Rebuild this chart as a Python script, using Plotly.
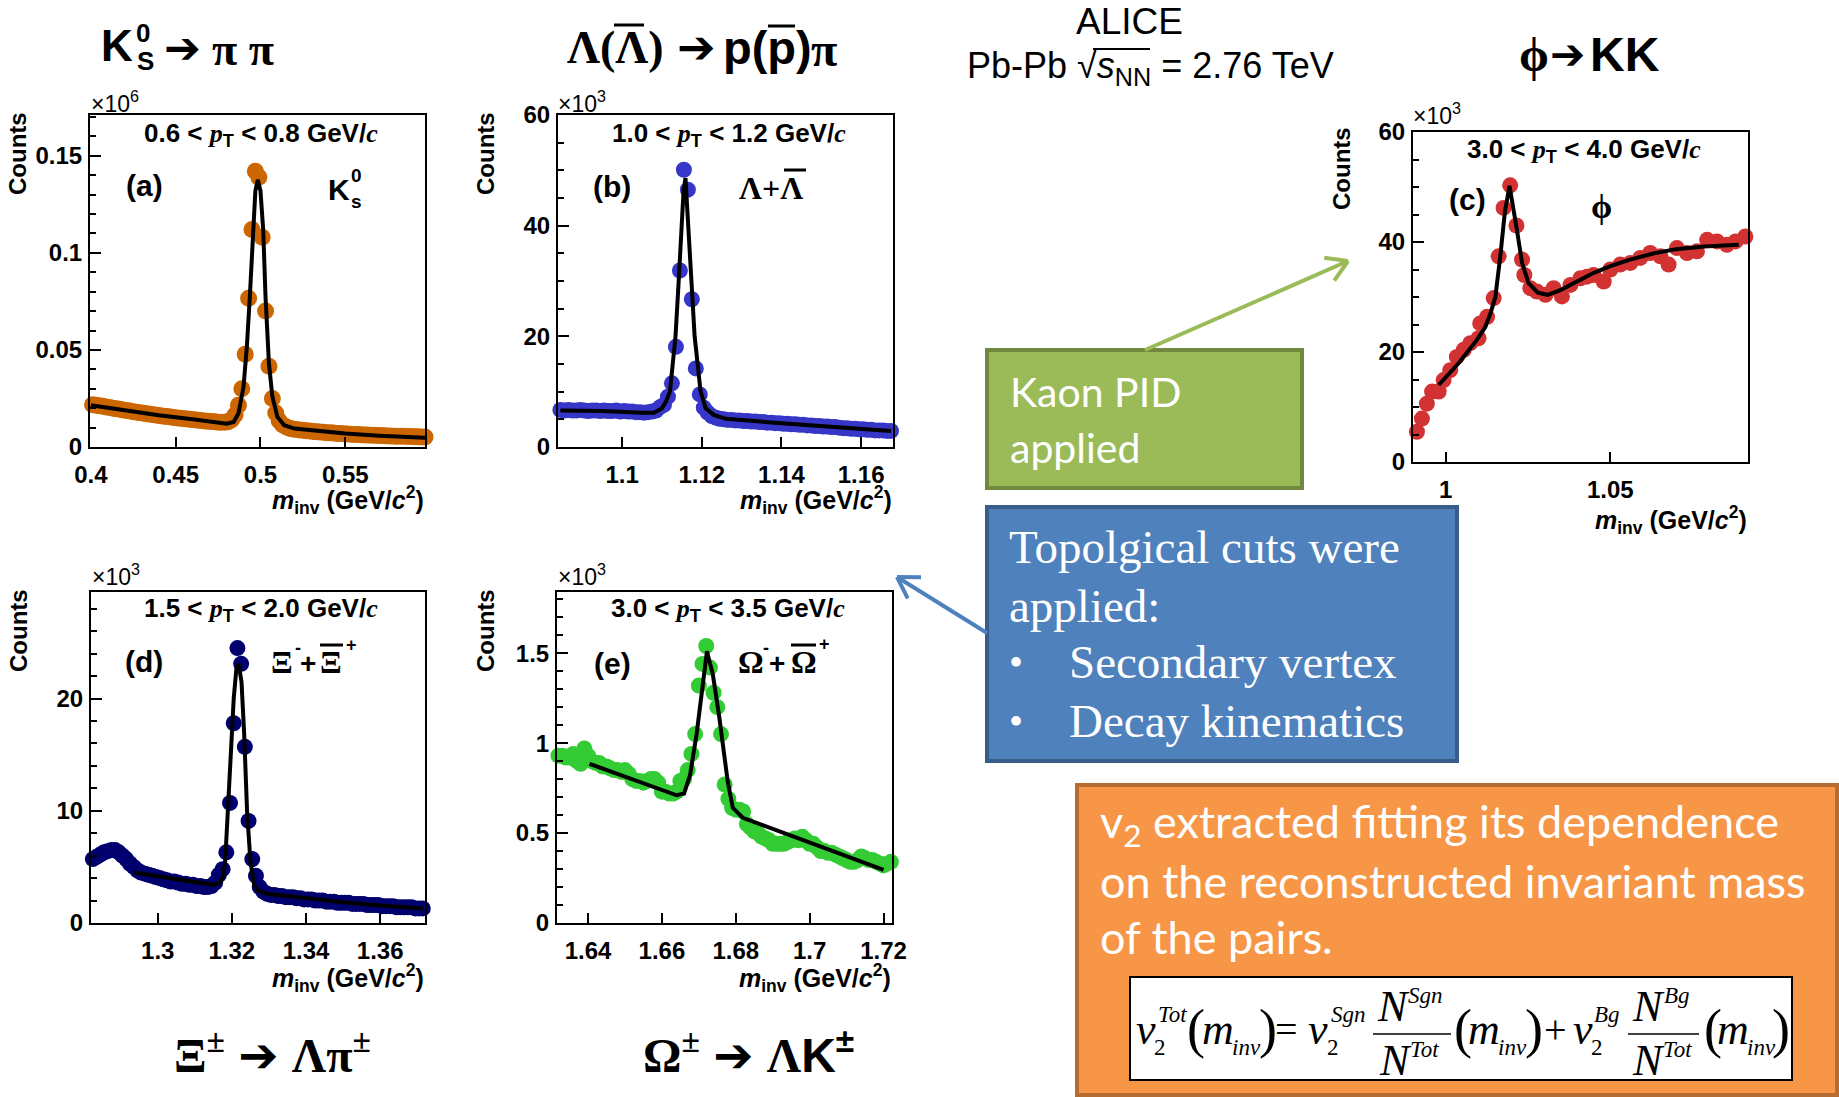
import math
import plotly.graph_objects as go

W, H = 1839, 1097

SANS = "Liberation Sans, Arial, sans-serif"
SERIF = "Liberation Serif, Times New Roman, serif"
SLIDE = "Lato, Open Sans, sans-serif"

# ---------------- data (invariant-mass histograms, counts) ----------------
# (a) K0s, counts in units of 10^6, bins of 2 MeV starting at 0.401
a_start, a_step = 0.401, 0.002
a_counts = [0.0218, 0.0215, 0.0212, 0.0210, 0.0206, 0.0203, 0.0199, 0.0197, 0.0194, 0.0190,
            0.0188, 0.0185, 0.0182, 0.0179, 0.0177, 0.0174, 0.0171, 0.0169, 0.0166, 0.0164,
            0.0161, 0.0159, 0.0157, 0.0154, 0.0152, 0.0150, 0.0148, 0.0146, 0.0144, 0.0142,
            0.0140, 0.0138, 0.0136, 0.0134, 0.0133, 0.0131, 0.0130, 0.0128, 0.0127, 0.0127,
            0.0130, 0.0140, 0.0165, 0.0215, 0.0300, 0.0478, 0.0766, 0.1120, 0.1420, 0.1390,
            0.1080, 0.0700, 0.0416, 0.0250, 0.0175, 0.0135, 0.0115, 0.0104, 0.0097, 0.0093,
            0.0090, 0.0088, 0.0086, 0.0084, 0.0082, 0.0080, 0.0079, 0.0077, 0.0076, 0.0074,
            0.0073, 0.0072, 0.0070, 0.0069, 0.0068, 0.0067, 0.0066, 0.0065, 0.0064, 0.0063,
            0.0062, 0.0062, 0.0061, 0.0060, 0.0059, 0.0059, 0.0058, 0.0057, 0.0057, 0.0056,
            0.0056, 0.0055, 0.0055, 0.0054, 0.0054, 0.0053, 0.0053, 0.0052, 0.0052]
a_fit_m = [0.400, 0.420, 0.440, 0.460, 0.480, 0.4842, 0.487, 0.490, 0.492, 0.4937, 0.4955,
           0.497, 0.4984, 0.500, 0.5016, 0.503, 0.505, 0.507, 0.510, 0.514, 0.520, 0.530,
           0.550, 0.570, 0.597]
a_fit_n = [0.0215, 0.0188, 0.0163, 0.0143, 0.0120, 0.0129, 0.0172, 0.031, 0.052, 0.077, 0.112,
           0.132, 0.1376, 0.132, 0.112, 0.077, 0.043, 0.026, 0.0155, 0.0112, 0.0095, 0.0085,
           0.0069, 0.0058, 0.0048]

# (b) Lambda + anti-Lambda, counts in units of 10^3, 1 MeV bins
b_start, b_step = 1.0845, 0.001
b_counts = [6.7, 6.6, 6.7, 6.6, 6.6, 6.7, 6.6, 6.5, 6.6, 6.6,
            6.5, 6.6, 6.5, 6.5, 6.6, 6.4, 6.5, 6.4, 6.4, 6.3,
            6.3, 6.2, 6.3, 6.4,
            6.6, 7.2, 7.6, 9.1, 11.5, 18.1, 31.9, 50.1, 46.5, 26.7, 14.2, 9.5, 7.1, 6.2, 5.6, 5.3, 5.1,
            5.0, 4.9, 4.9, 4.8, 4.8, 4.7, 4.7, 4.6, 4.6, 4.5,
            4.5, 4.4, 4.4, 4.3, 4.3, 4.2, 4.2, 4.1, 4.1, 4.0,
            4.0, 3.9, 3.9, 3.8, 3.8, 3.7, 3.7, 3.6, 3.6, 3.5,
            3.4, 3.4, 3.3, 3.3, 3.2, 3.2, 3.1, 3.1, 3.0, 3.0,
            3.0, 2.9, 2.9]
b_fit_m = [1.0845, 1.095, 1.105, 1.108, 1.110, 1.111, 1.112, 1.1134, 1.1142, 1.1149, 1.1154,
           1.1159, 1.1166, 1.1173, 1.1182, 1.1197, 1.121, 1.123, 1.126, 1.140, 1.155, 1.1675]
b_fit_n = [6.6, 6.5, 6.2, 6.2, 7.0, 8.2, 10.0, 20.0, 30.0, 40.0, 46.0,
           48.6, 40.0, 30.0, 20.0, 10.0, 7.0, 5.8, 5.1, 4.3, 3.5, 2.9]

# (c) phi, counts in units of 10^3
c_mass = [0.9913, 0.9928, 0.9943, 0.9959, 0.9979, 0.9994, 1.0014, 1.0034, 1.0055, 1.0075,
          1.0100, 1.0105, 1.0126, 1.0146, 1.0161, 1.0176, 1.0196, 1.0215, 1.0232, 1.0239,
          1.0257, 1.0277, 1.0303, 1.0328, 1.0353, 1.0379, 1.0409, 1.0429, 1.0449, 1.0480,
          1.0500, 1.0530, 1.0561, 1.0591, 1.0621, 1.0652, 1.0677, 1.0702, 1.0733, 1.0763,
          1.0794, 1.0824, 1.0854, 1.0880, 1.0910]
c_counts = [5.5, 7.9, 10.6, 12.8, 12.8, 14.9, 16.7, 19.1, 20.4, 21.6,
            22.5, 25.2, 26.4, 29.8, 37.4, 46.2, 50.3, 43.0, 36.8, 34.0,
            31.6, 31.0, 30.4, 31.6, 30.1, 32.2, 33.4, 33.7, 34.0, 32.8,
            35.0, 35.9, 36.2, 37.1, 38.0, 37.4, 35.9, 38.9, 38.0, 38.3,
            40.4, 40.1, 39.5, 40.1, 41.0]
c_fit_m = [0.9979, 1.0040, 1.0095, 1.0120, 1.0136, 1.0151, 1.0166, 1.0180, 1.0194, 1.0205,
           1.0217, 1.0232, 1.0252, 1.0280, 1.0310, 1.0350, 1.0390, 1.0450, 1.0500, 1.0560,
           1.0630, 1.0700, 1.0784, 1.0890]
c_fit_n = [14.0, 18.0, 22.2, 24.5, 27.0, 30.0, 37.4, 45.5, 50.2, 46.5,
           42.0, 36.2, 32.5, 30.8, 30.4, 31.3, 32.6, 34.4, 35.6, 36.8,
           37.9, 38.7, 39.2, 39.5]

# (d) Xi- + anti-Xi+, counts in units of 10^3, 1 MeV bins
d_start, d_step = 1.2825, 0.001
d_counts = [5.7, 5.9, 6.1, 6.3, 6.4, 6.5, 6.5, 6.3, 6.0, 5.7,
            5.3, 5.0, 4.7, 4.5, 4.4, 4.3, 4.2, 4.1, 4.0, 3.9,
            3.8, 3.7, 3.7, 3.6, 3.5, 3.5, 3.4, 3.4, 3.3, 3.3,
            3.2, 3.2, 3.3,
            3.6, 4.3, 4.8, 6.3, 10.7, 17.8, 24.5, 23.1, 15.7, 9.1, 5.7, 4.2, 3.2, 2.8, 2.6,
            2.5, 2.5, 2.4, 2.4, 2.3, 2.3, 2.3, 2.2, 2.2, 2.1,
            2.1, 2.1, 2.0, 2.0, 2.0, 1.9, 1.9, 1.9, 1.8, 1.8,
            1.8, 1.8, 1.7, 1.7, 1.7, 1.7, 1.6, 1.6, 1.6, 1.6,
            1.5, 1.5, 1.5, 1.5, 1.4, 1.4, 1.4, 1.4, 1.4, 1.3,
            1.3, 1.3]
d_fit_m = [1.2935, 1.300, 1.305, 1.310, 1.315, 1.3168, 1.3175, 1.3182, 1.3189, 1.3198, 1.3205,
           1.3212, 1.3218, 1.3226, 1.3233, 1.3241, 1.3250, 1.3260, 1.3270, 1.3295, 1.340,
           1.350, 1.360, 1.3715]
d_fit_n = [4.5, 4.15, 3.85, 3.6, 3.4, 3.6, 4.0, 5.5, 10.0, 16.0, 20.0,
           22.6, 23.1, 21.5, 17.0, 10.0, 5.5, 3.4, 2.9, 2.6, 2.2,
           1.85, 1.55, 1.3]

# (e) Omega- + anti-Omega+, counts in units of 10^3, 1 MeV bins
e_start, e_step = 1.632, 0.001
e_counts = [0.93, 0.93, 0.92, 0.92, 0.94, 0.90, 0.885, 0.97, 0.93, 0.90,
            0.89, 0.89, 0.87, 0.87, 0.86, 0.85, 0.85, 0.84, 0.85, 0.83,
            0.80, 0.79, 0.79, 0.78, 0.79, 0.80, 0.80, 0.78, 0.73, 0.73,
            0.72, 0.72, 0.73, 0.79, 0.80,
            0.85, 0.94, 1.05, 1.32, 1.44, 1.54, 1.42, 1.28, 1.20, 1.05, 0.77, 0.69, 0.64,
            0.63, 0.63, 0.62, 0.55, 0.53, 0.51, 0.50, 0.48, 0.47, 0.46,
            0.44, 0.44, 0.44, 0.44, 0.45, 0.46, 0.47, 0.46, 0.48, 0.46,
            0.44, 0.44, 0.42, 0.40, 0.40, 0.39, 0.39, 0.38, 0.37, 0.36,
            0.35, 0.34, 0.34, 0.35, 0.37, 0.36, 0.35, 0.35, 0.34, 0.33,
            0.32, 0.33, 0.34]
e_fit_m = [1.6404, 1.6640, 1.6660, 1.6676, 1.6694, 1.6712, 1.6722, 1.6738, 1.6755, 1.6778,
           1.6792, 1.6819, 1.7200]
e_fit_n = [0.885, 0.71, 0.72, 0.82, 1.05, 1.35, 1.51, 1.38, 1.15, 0.79,
           0.64, 0.585, 0.295]


def bin_centres(start, step, values):
    return [round(start + step * i, 5) for i in range(len(values))]


def px(x):
    return x / W


def py(y):
    return 1 - y / H


# ---------------- panel definitions ----------------
# frame in page pixels: (left, top, right, bottom)
panels = [
    dict(frame=(90, 115, 425, 447), m=bin_centres(a_start, a_step, a_counts), n=a_counts,
         fm=a_fit_m, fn=a_fit_n, color="#CC6600", size=17,
         xr=[0.3995, 0.597], yr=[0, 0.171],
         xt=[0.4, 0.45, 0.5, 0.55], xtt=["0.4", "0.45", "0.5", "0.55"],
         yt=[0, 0.05, 0.1, 0.15], ytt=["0", "0.05", "0.1", "0.15"], ymin=0.01),
    dict(frame=(558, 115, 893, 447), m=bin_centres(b_start, b_step, b_counts), n=b_counts,
         fm=b_fit_m, fn=b_fit_n, color="#3636C8", size=16,
         xr=[1.0839, 1.168], yr=[0, 60],
         xt=[1.1, 1.12, 1.14, 1.16], xtt=["1.1", "1.12", "1.14", "1.16"],
         yt=[0, 20, 40, 60], ytt=["0", "20", "40", "60"], ymin=5),
    dict(frame=(1413, 132, 1748, 462), m=c_mass, n=c_counts,
         fm=c_fit_m, fn=c_fit_n, color="#D23232", size=16,
         xr=[0.9901, 1.0918], yr=[0, 60],
         xt=[1.0, 1.05], xtt=["1", "1.05"],
         yt=[0, 20, 40, 60], ytt=["0", "20", "40", "60"], ymin=5),
    dict(frame=(91, 592, 425, 923), m=bin_centres(d_start, d_step, d_counts), n=d_counts,
         fm=d_fit_m, fn=d_fit_n, color="#00006E", size=16,
         xr=[1.2820, 1.3721], yr=[0, 29.5],
         xt=[1.3, 1.32, 1.34, 1.36], xtt=["1.3", "1.32", "1.34", "1.36"],
         yt=[0, 10, 20], ytt=["0", "10", "20"], ymin=2),
    dict(frame=(557, 592, 892, 923), m=bin_centres(e_start, e_step, e_counts), n=e_counts,
         fm=e_fit_m, fn=e_fit_n, color="#34CC34", size=16,
         xr=[1.6316, 1.7223], yr=[0, 1.84],
         xt=[1.64, 1.66, 1.68, 1.70, 1.72], xtt=["1.64", "1.66", "1.68", "1.7", "1.72"],
         yt=[0, 0.5, 1.0, 1.5], ytt=["0", "0.5", "1", "1.5"], ymin=0.1),
]

fig = go.Figure()
layout = dict(width=W, height=H,
              margin=dict(l=0, r=0, t=0, b=0, pad=0, autoexpand=False),
              paper_bgcolor="white", plot_bgcolor="rgba(0,0,0,0)", showlegend=False)

for k, p in enumerate(panels, start=1):
    sfx = "" if k == 1 else str(k)
    l, t, r, b = p["frame"]
    axis_base = dict(showline=True, linecolor="black", linewidth=2, mirror=True,
                     ticks="inside", tickwidth=2, tickcolor="black", showgrid=False,
                     zeroline=False, automargin=False,
                     tickfont=dict(family=SANS, size=24, color="black", weight="bold"))
    layout["xaxis" + sfx] = dict(axis_base, domain=[px(l), px(r)], range=p["xr"],
                                 anchor="y" + sfx, tickvals=p["xt"], ticktext=p["xtt"],
                                 ticklen=10, ticklabelstandoff=5)
    layout["yaxis" + sfx] = dict(axis_base, domain=[py(b), py(t)], range=p["yr"],
                                 anchor="x" + sfx, tickvals=p["yt"], ticktext=p["ytt"],
                                 ticklen=11, ticklabelstandoff=1,
                                 minor=dict(dtick=p["ymin"], ticks="inside", ticklen=6,
                                            tickwidth=1.5, tickcolor="black", showgrid=False))
    fig.add_trace(go.Scatter(x=p["m"], y=p["n"], mode="markers", xaxis="x" + sfx,
                             yaxis="y" + sfx, cliponaxis=False,
                             marker=dict(size=p["size"], color=p["color"], line=dict(width=0))))
    fig.add_trace(go.Scatter(x=p["fm"], y=p["fn"], mode="lines", xaxis="x" + sfx,
                             yaxis="y" + sfx, cliponaxis=False,
                             line=dict(color="black", width=4)))

annotations = []
shapes = []


def T(x, y, text, size=22, family=SANS, color="black", xa="center", ya="middle", angle=0):
    annotations.append(dict(x=px(x), y=py(y), xref="paper", yref="paper", text=text,
                            showarrow=False, xanchor=xa, yanchor=ya, textangle=angle,
                            borderpad=0,
                            font=dict(size=size, family=family, color=color)))


def L(x0, y0, x1, y1, color="black", width=2):
    shapes.append(dict(type="line", xref="paper", yref="paper", x0=px(x0), y0=py(y0),
                       x1=px(x1), y1=py(y1), line=dict(color=color, width=width)))


def R(x0, y0, x1, y1, fill, edge, width):
    shapes.append(dict(type="rect", xref="paper", yref="paper", x0=px(x0), y0=py(y1),
                       x1=px(x1), y1=py(y0), fillcolor=fill,
                       line=dict(color=edge, width=width), layer="below"))


def ARROW(x0, y0, x1, y1, color, width=4, head=24, spread=0.55):
    L(x0, y0, x1, y1, color, width)
    ang = math.atan2(y1 - y0, x1 - x0)
    for s in (spread, -spread):
        L(x1, y1, x1 - head * math.cos(ang + s), y1 - head * math.sin(ang + s), color, width)


ITP = "<span style='font-family:Liberation Serif'><i>p</i></span>"
ITC = "<span style='font-family:Liberation Serif'><i>c</i></span>"
MINV = "<b><i>m</i><sub>inv</sub> (GeV/<i>c</i><sup>2</sup>)</b>"


def pt_label(lo, hi):
    return f"<b>{lo} < {ITP}<sub>T</sub> < {hi} GeV/{ITC}</b>"


def counts(x, y):
    T(x, y, "<b>Counts</b>", 24, angle=-90)


# ---- per-panel texts ----
# (a)
T(90, 102, "×10<sup>6</sup>", 23, xa="left")
T(261, 134, pt_label("0.6", "0.8"), 26)
T(144, 186, "<b>(a)</b>", 30)
T(339, 189, "<b>K</b>", 30)
T(356, 175, "<b>0</b>", 19)
T(356, 201, "<b>s</b>", 19)
counts(18, 154)
T(425, 500, MINV, 25, xa="right")
# (b)
T(557, 102, "×10<sup>3</sup>", 23, xa="left")
T(729, 134, pt_label("1.0", "1.2"), 26)
T(612, 187, "<b>(b)</b>", 30)
T(771, 188, "<b>Λ+Λ</b>", 32, family=SERIF)
L(784, 170, 806, 170, "black", 3)
counts(486, 154)
T(893, 500, MINV, 25, xa="right")
# (c)
T(1412, 114, "×10<sup>3</sup>", 23, xa="left")
T(1584, 150, pt_label("3.0", "4.0"), 26)
T(1467, 200, "<b>(c)</b>", 30)
T(1601, 206, "<b>ϕ</b>", 34, family=SERIF)
counts(1342, 169)
T(1748, 520, MINV, 25, xa="right")
# (d)
T(91, 575, "×10<sup>3</sup>", 23, xa="left")
T(261, 610, pt_label("1.5", "2.0"), 26)
T(144, 661, "<b>(d)</b>", 30)
T(270, 662, "<b>Ξ</b>", 32, family=SERIF, xa="left")
T(294, 648, "<b>-</b>", 18, xa="left")
T(299, 663, "<b>+</b>", 28, xa="left")
T(319, 662, "<b>Ξ</b>", 32, family=SERIF, xa="left")
L(320, 645, 343, 645, "black", 3)
T(345, 645, "<b>+</b>", 18, xa="left")
counts(18, 631)
T(425, 978, MINV, 25, xa="right")
# (e)
T(557, 575, "×10<sup>3</sup>", 23, xa="left")
T(728, 610, pt_label("3.0", "3.5"), 26)
T(612, 663, "<b>(e)</b>", 30)
T(737, 662, "<b>Ω</b>", 32, family=SERIF, xa="left")
T(762, 648, "<b>-</b>", 18, xa="left")
T(768, 663, "<b>+</b>", 28, xa="left")
T(790, 662, "<b>Ω</b>", 32, family=SERIF, xa="left")
L(791, 645, 816, 645, "black", 3)
T(818, 644, "<b>+</b>", 18, xa="left")
counts(485, 631)
T(892, 978, MINV, 25, xa="right")

# ---- decay-channel headings ----
GS = "<span style='font-family:Liberation Serif'>"
AR = "<span style='font-family:DejaVu Sans'>➔</span>"
ARR = "<b>➔</b>"
T(100, 46, "<b>K</b>", 44, xa="left")
T(135, 33, "<b>0</b>", 26, xa="left")
T(136, 61, "<b>S</b>", 26, xa="left")
T(182, 47, ARR, 44, family="DejaVu Sans")
T(211, 49, "<b>π π</b>", 46, family=SERIF, xa="left")

T(566, 48, "<b>Λ(Λ)</b>", 46, family=SERIF, xa="left")
L(614, 25, 644, 25, "black", 3)
T(696, 47, ARR, 46, family="DejaVu Sans")
T(722, 47, "<b>p(p)</b>", 47, xa="left")
L(768, 26, 795, 26, "black", 3)
T(810, 49, "<b>π</b>", 48, family=SERIF, xa="left")

T(1129, 21, "ALICE", 37)
T(1150, 68, "Pb-Pb √<i>s</i><sub>NN</sub> = 2.76 TeV", 36)
L(1093, 49, 1150, 49, "black", 2)
T(1534, 54, "<b>ϕ</b>", 48, family=SERIF)
T(1567, 54, ARR, 42, family="DejaVu Sans")
T(1589, 54, "<b>KK</b>", 48, xa="left")
T(272, 1052, f"<b>{GS}Ξ<sup>±</sup></span> {AR} {GS}Λπ<sup>±</sup></span></b>", 48)
T(748, 1052, f"<b>{GS}Ω<sup>±</sup></span> {AR} {GS}Λ</span>K<sup>±</sup></b>", 48)

# ---- callout boxes ----
R(987, 350, 1302, 488, "#9BBB59", "#71893F", 4)
T(1009, 391, "Kaon PID", 41, family=SLIDE, color="white", xa="left")
T(1009, 447, "applied", 41, family=SLIDE, color="white", xa="left")
ARROW(1145, 350, 1348, 261, "#9BBB59", 4)

R(987, 507, 1457, 761, "#4F81BD", "#385D8A", 4)
T(1008, 547, "Topolgical cuts were", 47, family=SERIF, color="white", xa="left")
T(1008, 606, "applied:", 47, family=SERIF, color="white", xa="left")
T(1016, 662, "•", 40, family=SERIF, color="white")
T(1068, 662, "Secondary vertex", 47, family=SERIF, color="white", xa="left")
T(1016, 721, "•", 40, family=SERIF, color="white")
T(1068, 721, "Decay kinematics", 47, family=SERIF, color="white", xa="left")
ARROW(987, 633, 897, 577, "#4F81BD", 4)

R(1077, 785, 1837, 1095, "#F79646", "#B66D31", 4)
T(1099, 824, "v<sub>2</sub> extracted fitting its dependence", 45, family=SLIDE,
  color="white", xa="left")
T(1099, 881, "on the reconstructed invariant mass", 45, family=SLIDE, color="white", xa="left")
T(1099, 937, "of the pairs.", 45, family=SLIDE, color="white", xa="left")

# ---- formula ----
R(1130, 977, 1792, 1080, "white", "black", 2)


def F(x, y, text, size=44, italic=True):
    T(x, y, f"<i>{text}</i>" if italic else text, size, family=SERIF, xa="left")


MAIN_Y, SUP_Y, SUB_Y = 1029, 1014, 1047
F(1135, MAIN_Y, "v")
F(1157, SUP_Y, "Tot", 23)
F(1153, SUB_Y, "2", 23, italic=False)
F(1186, MAIN_Y, "(", 54, italic=False)
F(1201, MAIN_Y, "m")
F(1231, SUB_Y, "inv", 23)
F(1258, MAIN_Y, ")", 54, italic=False)
F(1274, MAIN_Y, "=", 40, italic=False)
F(1307, MAIN_Y, "v")
F(1330, SUP_Y, "Sgn", 23)
F(1326, SUB_Y, "2", 23, italic=False)
L(1373, 1034, 1451, 1034, "black", 1.5)
F(1376, 1006, "N")
F(1407, 995, "Sgn", 23)
F(1378, 1060, "N")
F(1409, 1049, "Tot", 23)
F(1453, MAIN_Y, "(", 54, italic=False)
F(1467, MAIN_Y, "m")
F(1497, SUB_Y, "inv", 23)
F(1524, MAIN_Y, ")", 54, italic=False)
F(1543, MAIN_Y, "+", 40, italic=False)
F(1572, MAIN_Y, "v")
F(1593, SUP_Y, "Bg", 23)
F(1590, SUB_Y, "2", 23, italic=False)
L(1628, 1034, 1699, 1034, "black", 1.5)
F(1631, 1006, "N")
F(1663, 995, "Bg", 23)
F(1631, 1060, "N")
F(1662, 1049, "Tot", 23)
F(1703, MAIN_Y, "(", 54, italic=False)
F(1716, MAIN_Y, "m")
F(1746, SUB_Y, "inv", 23)
F(1771, MAIN_Y, ")", 54, italic=False)

layout["annotations"] = annotations
layout["shapes"] = shapes
fig.update_layout(**layout)
fig.write_html("out.html", post_script="document.body.style.margin='0';")
